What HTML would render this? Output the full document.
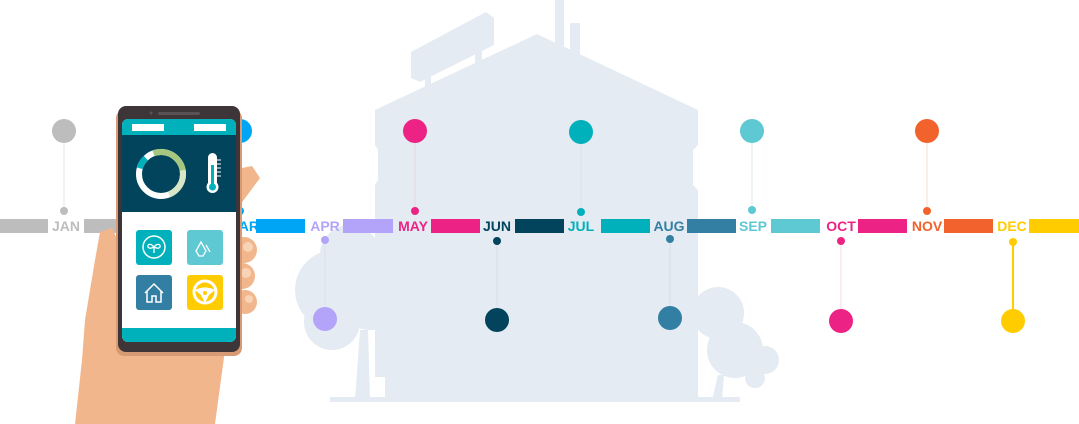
<!DOCTYPE html>
<html><head><meta charset="utf-8"><style>
html,body{margin:0;padding:0;background:#fff}
svg{display:block}
text{font-family:"Liberation Sans",sans-serif;font-weight:bold;font-size:14px}
</style></head><body>
<svg width="1079" height="424" viewBox="0 0 1079 424" xmlns="http://www.w3.org/2000/svg">
<!-- building silhouette -->
<g fill="#e4ebf2">
<rect x="555" y="0" width="9" height="50"/>
<rect x="570" y="23" width="10" height="35"/>
<polygon points="411,52 486,12 494,18 494,45 420,82 411,78"/>
<rect x="425" y="70" width="6" height="20"/>
<rect x="475" y="45" width="7" height="20"/>
<polygon points="375,110 537,34 698,110 698,145 693,150 693,185 698,190 698,400 385,400 385,377 375,377 375,185 378,180 378,150 375,145"/>
<circle cx="350" cy="255" r="30"/>
<circle cx="335" cy="290" r="40"/>
<circle cx="332" cy="322" r="28"/>
<circle cx="370" cy="300" r="30"/>
<polygon points="355,400 360,330 368,330 370,400"/>
<circle cx="718" cy="313" r="26"/>
<circle cx="735" cy="350" r="28"/>
<circle cx="765" cy="360" r="14"/>
<circle cx="755" cy="378" r="10"/>
<polygon points="712,400 718,375 724,375 722,400"/>
<rect x="330" y="397" width="410" height="5"/>
</g>
<!-- connector lines -->
<g stroke-width="1">
<line x1="64" y1="131" x2="64" y2="211" stroke="#e6e6e6"/>
<line x1="415" y1="131" x2="415" y2="211" stroke="#e8d5de"/>
<line x1="581" y1="131" x2="581" y2="211" stroke="#d6e5e8"/>
<line x1="752" y1="131" x2="752" y2="211" stroke="#dde9ee"/>
<line x1="927" y1="131" x2="927" y2="211" stroke="#f6dcd6"/>
<line x1="325" y1="240" x2="325" y2="319" stroke="#dbe2ea"/>
<line x1="497" y1="240" x2="497" y2="320" stroke="#d6dde3"/>
<line x1="670" y1="239" x2="670" y2="318" stroke="#d6dde3"/>
<line x1="841" y1="241" x2="841" y2="321" stroke="#f6dce6"/>
<line x1="1013" y1="242" x2="1013" y2="321" stroke="#ffcc00" stroke-width="2"/>
</g>
<!-- circles top -->
<circle cx="64" cy="131" r="12" fill="#bdbdbd"/>
<circle cx="240" cy="131" r="12" fill="#00a6f5"/>
<circle cx="415" cy="131" r="12" fill="#ec2384"/>
<circle cx="581" cy="132" r="12" fill="#00b1bc"/>
<circle cx="752" cy="131" r="12" fill="#5ec8d3"/>
<circle cx="927" cy="131" r="12" fill="#f2622d"/>
<circle cx="64" cy="211" r="4" fill="#bdbdbd"/>
<circle cx="240" cy="211" r="4" fill="#00a6f5"/>
<circle cx="415" cy="211" r="4" fill="#ec2384"/>
<circle cx="581" cy="212" r="4" fill="#00b1bc"/>
<circle cx="752" cy="210" r="4" fill="#5ec8d3"/>
<circle cx="927" cy="211" r="4" fill="#f2622d"/>
<!-- circles bottom -->
<circle cx="325" cy="240" r="4" fill="#b3a4fa"/>
<circle cx="497" cy="241" r="4" fill="#02445b"/>
<circle cx="670" cy="239" r="4" fill="#337fa3"/>
<circle cx="841" cy="241" r="4" fill="#ec2384"/>
<circle cx="1013" cy="242" r="4" fill="#ffcc00"/>
<circle cx="325" cy="319" r="12" fill="#b3a4fa"/>
<circle cx="497" cy="320" r="12" fill="#02445b"/>
<circle cx="670" cy="318" r="12" fill="#337fa3"/>
<circle cx="841" cy="321" r="12" fill="#ec2384"/>
<circle cx="1013" cy="321" r="12" fill="#ffcc00"/>
<!-- bars -->
<rect x="0" y="219" width="48" height="14" fill="#bdbdbd"/>
<rect x="84" y="219" width="50" height="14" fill="#bdbdbd"/>
<rect x="256" y="219" width="49" height="14" fill="#00a6f5"/>
<rect x="343" y="219" width="50" height="14" fill="#b3a4fa"/>
<rect x="431" y="219" width="49" height="14" fill="#ec2384"/>
<rect x="515" y="219" width="49" height="14" fill="#02445b"/>
<rect x="601" y="219" width="49" height="14" fill="#00b1bc"/>
<rect x="687" y="219" width="49" height="14" fill="#337fa3"/>
<rect x="771" y="219" width="49" height="14" fill="#5ec8d3"/>
<rect x="858" y="219" width="49" height="14" fill="#ec2384"/>
<rect x="944" y="219" width="49" height="14" fill="#f2622d"/>
<rect x="1029" y="219" width="50" height="14" fill="#ffcc00"/>
<g text-anchor="middle">
<text x="66" y="231" fill="#bdbdbd">JAN</text>
<text x="243" y="231" fill="#00a6f5">MAR</text>
<text x="325" y="231" fill="#b3a4fa">APR</text>
<text x="413" y="231" fill="#ec2384">MAY</text>
<text x="497" y="231" fill="#02445b">JUN</text>
<text x="581" y="231" fill="#00b1bc">JUL</text>
<text x="669" y="231" fill="#337fa3">AUG</text>
<text x="753" y="231" fill="#5ec8d3">SEP</text>
<text x="841" y="231" fill="#ec2384">OCT</text>
<text x="927" y="231" fill="#f2622d">NOV</text>
<text x="1012" y="231" fill="#ffcc00">DEC</text>
</g>
<!-- hand -->
<g fill="#f2b68c">
<polygon points="232,170 252,166 260,178 240,205 232,205"/>
<polygon points="100,232 112,228 122,250 122,330 240,330 225,350 215,424 75,424 82,360 85,320 95,260"/>
<circle cx="244" cy="250" r="13"/>
<circle cx="242" cy="276" r="13"/>
<circle cx="245" cy="302" r="12"/>
</g>
<g fill="#f8d3b6"><circle cx="248" cy="247" r="5"/><circle cx="246" cy="273" r="5"/><circle cx="249" cy="299" r="4"/></g>
<!-- phone -->
<rect x="116" y="110" width="126" height="246" rx="8" fill="#d79a74"/>
<rect x="118" y="106" width="122" height="246" rx="8" fill="#3d3538"/>
<rect x="158" y="112" width="42" height="3" rx="1.5" fill="#5a5255"/>
<circle cx="151" cy="113" r="1.5" fill="#5a5255"/>
<rect x="122" y="119" width="114" height="223" rx="6" fill="#fff"/>
<path d="M122,125 a6,6 0 0 1 6,-6 h102 a6,6 0 0 1 6,6 v10 h-114z" fill="#00b1bc"/>
<rect x="132" y="124" width="32" height="7" fill="#fff"/>
<rect x="194" y="124" width="32" height="7" fill="#fff"/>
<rect x="122" y="135" width="114" height="77" fill="#02445b"/>
<circle cx="161" cy="174" r="22" fill="none" stroke="#fff" stroke-width="6"/>
<circle cx="161" cy="174" r="22" fill="none" stroke="#a5c77f" stroke-width="6" stroke-dasharray="40 200" transform="rotate(-110 161 174)"/>
<circle cx="161" cy="174" r="22" fill="none" stroke="#d6e6c6" stroke-width="6" stroke-dasharray="30 200" transform="rotate(-10 161 174)"/>
<circle cx="161" cy="174" r="22" fill="none" stroke="#00b1bc" stroke-width="6" stroke-dasharray="12 200" transform="rotate(-165 161 174)"/>
<rect x="208" y="153" width="9" height="34" rx="4.5" fill="#fff"/>
<circle cx="212.5" cy="187" r="6" fill="#fff"/>
<rect x="211" y="165" width="3" height="22" fill="#00b1bc"/>
<circle cx="212.5" cy="187" r="3.5" fill="#00b1bc"/>
<path d="M217,160h4M217,164h4M217,168h4M217,172h4M217,176h4" stroke="#fff" stroke-width="1"/>
<path d="M122,328 h114 v8 a6,6 0 0 1 -6,6 h-102 a6,6 0 0 1 -6,-6z" fill="#00b1bc"/>
<rect x="136" y="230" width="36" height="35" rx="3" fill="#00b1bc"/>
<rect x="187" y="230" width="36" height="35" rx="3" fill="#5ec8d3"/>
<rect x="136" y="275" width="36" height="35" rx="3" fill="#337fa3"/>
<rect x="187" y="275" width="36" height="35" rx="3" fill="#ffcc00"/>
<circle cx="154" cy="247" r="11" fill="none" stroke="#fff" stroke-width="1.5"/>
<path d="M154,253v-6 M154,247c-3,-4 -7,-3 -6,0 1,2 4,1 6,0 2,1 5,2 6,0 1,-3 -3,-4 -6,0" stroke="#fff" stroke-width="1.3" fill="none"/>
<path d="M199,256 l-3,-5 5,-9 5,9 -3,5z M206,245 l4,7" stroke="#fff" stroke-width="1.3" fill="none"/>
<path d="M145,293 l9,-9 9,9 M147,291 v11 h5 v-6 h4 v6 h5 v-11" stroke="#fff" stroke-width="1.5" fill="none"/>
<circle cx="205" cy="292" r="11" fill="none" stroke="#fff" stroke-width="3"/>
<path d="M195,290 q10,-5 20,0 l-6,5 -4,8 -4,-8z" fill="#fff"/>
<circle cx="205" cy="293" r="2" fill="#ffcc00"/>
</svg>
</body></html>
